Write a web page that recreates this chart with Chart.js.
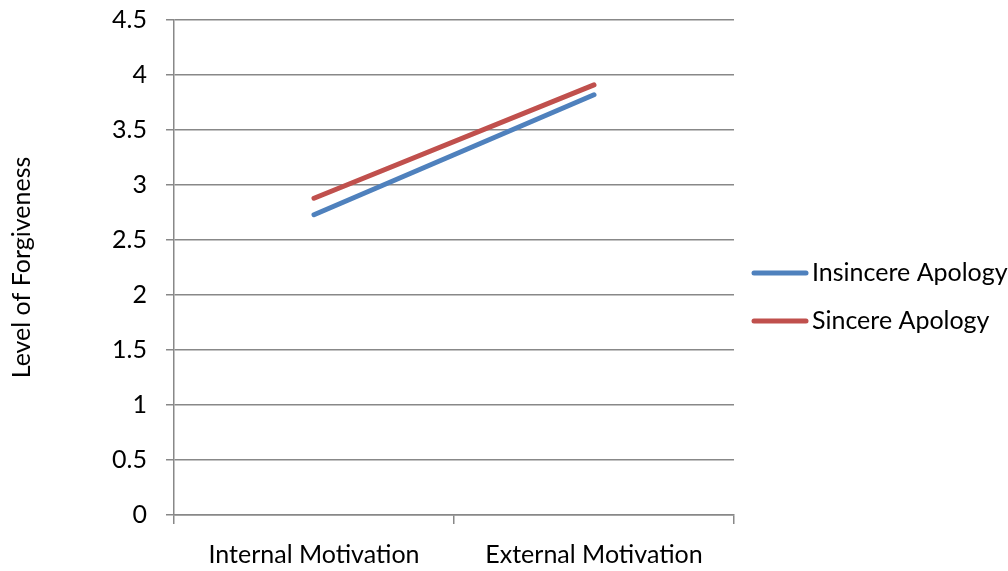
<!DOCTYPE html>
<html>
<head>
<meta charset="utf-8">
<script src="https://cdn.jsdelivr.net/npm/chart.js@4"></script>
<style>
  html, body { margin: 0; padding: 0; background: #ffffff; }
  #wrap { width: 1008px; height: 571px; position: relative; }
</style>
</head>
<body>
<div id="wrap"><canvas id="chart"></canvas></div>
<script>
// Forgiveness ratings by motivation type and apology sincerity
const categories = ['Internal Motivation', 'External Motivation'];
const insincereApology = [2.73, 3.82];
const sincereApology = [2.88, 3.91];
const seriesNames = ['Insincere Apology', 'Sincere Apology'];
const yAxisTitle = 'Level of Forgiveness';
const yTickLabels = ['0', '0.5', '1', '1.5', '2', '2.5', '3', '3.5', '4', '4.5'];

const FONT_FAMILY = 'Lato, "Open Sans", sans-serif';
const FONT_SIZE = 25;
const GRID = '#888888';

// Legend drawn to the right of the plot: short line swatch + label
const sideLegend = {
  id: 'sideLegend',
  afterDraw(chart) {
    const ctx = chart.ctx;
    const rows = [273, 321];
    ctx.save();
    ctx.font = `${FONT_SIZE}px ${FONT_FAMILY}`;
    ctx.textBaseline = 'middle';
    ctx.textAlign = 'left';
    chart.data.datasets.forEach((ds, i) => {
      const y = rows[i];
      ctx.strokeStyle = ds.borderColor;
      ctx.lineWidth = 5;
      ctx.lineCap = 'round';
      ctx.beginPath();
      ctx.moveTo(754, y);
      ctx.lineTo(806, y);
      ctx.stroke();
      ctx.fillStyle = '#000000';
      ctx.fillText(ds.label, 812, y);
    });
    ctx.restore();
  }
};

new Chart(document.getElementById('chart'), {
  type: 'line',
  data: {
    labels: categories,
    datasets: [
      {
        label: seriesNames[0],
        data: insincereApology,
        borderColor: '#4F81BD',
        backgroundColor: '#4F81BD',
        borderWidth: 5,
        borderCapStyle: 'round',
        pointRadius: 0,
        tension: 0
      },
      {
        label: seriesNames[1],
        data: sincereApology,
        borderColor: '#C0504D',
        backgroundColor: '#C0504D',
        borderWidth: 5,
        borderCapStyle: 'round',
        pointRadius: 0,
        tension: 0
      }
    ]
  },
  options: {
    responsive: true,
    maintainAspectRatio: false,
    animation: false,
    layout: { padding: { left: 0, right: 274, top: 20, bottom: 0 } },
    plugins: {
      legend: { display: false },
      tooltip: { enabled: false }
    },
    scales: {
      x: {
        type: 'category',
        offset: true,
        grid: {
          offset: true,
          drawOnChartArea: false,
          drawTicks: true,
          tickLength: 9,
          color: GRID,
          lineWidth: 1.5
        },
        border: { color: GRID, width: 1.5 },
        ticks: {
          color: '#000000',
          padding: 16,
          maxRotation: 0,
          font: { family: FONT_FAMILY, size: FONT_SIZE }
        },
        afterFit(scale) {
          scale.height = 56;
          scale.paddingLeft = 0;
          scale.paddingRight = 0;
        }
      },
      y: {
        min: 0,
        max: 4.5,
        grid: {
          color: GRID,
          lineWidth: 1.5,
          drawTicks: true,
          tickLength: 8
        },
        border: { color: GRID, width: 1.5 },
        ticks: {
          stepSize: 0.5,
          color: '#000000',
          padding: 19,
          font: { family: FONT_FAMILY, size: FONT_SIZE },
          callback: (value, index) => yTickLabels[index]
        },
        title: {
          display: true,
          text: yAxisTitle,
          color: '#000000',
          padding: { top: 7, bottom: 0 },
          font: { family: FONT_FAMILY, size: FONT_SIZE }
        },
        afterFit(scale) {
          scale.width = 174;
          scale.paddingTop = 0;
          scale.paddingBottom = 0;
        }
      }
    }
  },
  plugins: [sideLegend]
});
</script>
</body>
</html>
